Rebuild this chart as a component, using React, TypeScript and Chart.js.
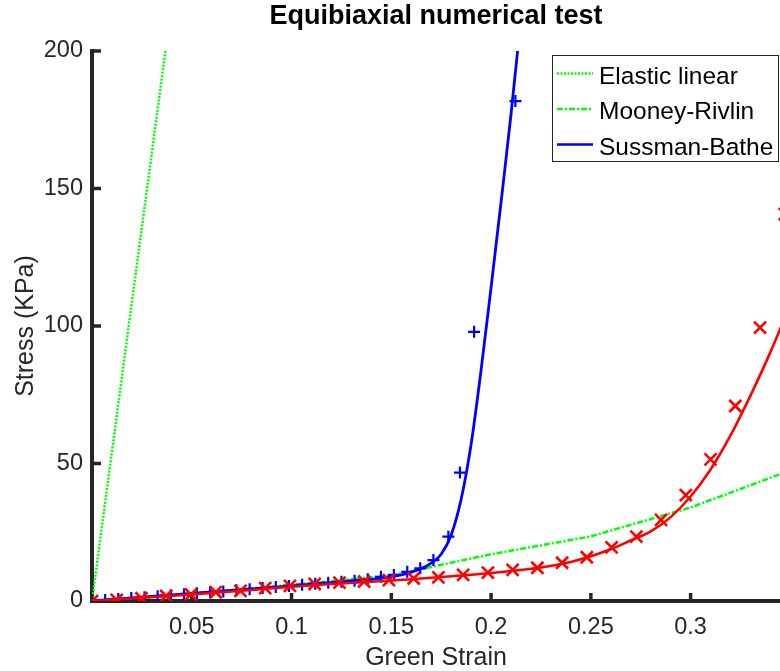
import React, { useEffect, useRef } from "react";
import { Chart, registerables } from "chart.js";

Chart.register(...registerables);

const FONT = "'Liberation Sans', Arial, Helvetica, sans-serif";
const AXIS_COLOR = "#262626";

// ---- data ----
const titleText = "Equibiaxial numerical test";
const xLabel = "Green Strain";
const yLabel = "Stress (KPa)";
const legendLabels = ["Elastic linear", "Mooney-Rivlin", "Sussman-Bathe"];

// Elastic linear (green dotted)
const elasticStrain = [0, 0.04];
const elasticStress = [0, 217.4];

// Mooney-Rivlin (green dash-dot)
const mrStrain = [0, 0.05, 0.1, 0.15, 0.2, 0.25, 0.3, 0.35];
const mrStress = [0, 2.8, 5.9, 9.3, 17, 23.5, 34, 47.5];

// Sussman-Bathe (blue solid)
const sbStrain = [0, 0.02, 0.04, 0.06, 0.08, 0.1, 0.12, 0.14, 0.15, 0.155, 0.16, 0.165, 0.17, 0.175, 0.18, 0.185, 0.19, 0.195, 0.2, 0.205, 0.21, 0.215];
const sbStress = [0, 1.1, 2.2, 3.3, 4.4, 5.5, 6.7, 7.9, 8.8, 9.5, 10.5, 11.8, 13.8, 17, 24, 37, 57, 84, 114, 145, 177, 212];

// Blue "+" markers
const blueMarkStrain = [0, 0.0066, 0.0132, 0.0197, 0.0263, 0.0329, 0.0395, 0.0461, 0.0526, 0.0592, 0.0658, 0.0724, 0.079, 0.0855, 0.0921, 0.0987, 0.1053, 0.1119, 0.1184, 0.125, 0.1316, 0.1382, 0.1448, 0.1513, 0.158, 0.1645, 0.1711, 0.1786, 0.1844, 0.1915, 0.2122];
const blueMarkStress = [0, 0.35, 0.7, 1.05, 1.4, 1.75, 2.1, 2.45, 2.8, 3.15, 3.5, 3.9, 4.3, 4.7, 5.1, 5.5, 5.9, 6.3, 6.6, 7.0, 7.4, 7.9, 8.8, 9.5, 10.6, 11.9, 14.9, 23.4, 46.7, 97.9, 181.8];

// Red solid curve
const redStrain = [0, 0.02, 0.04, 0.06, 0.08, 0.1, 0.12, 0.14, 0.16, 0.18, 0.2, 0.22, 0.24, 0.26, 0.27, 0.28, 0.29, 0.3, 0.31, 0.32, 0.33, 0.34, 0.35];
const redStress = [0, 0.9, 1.9, 2.9, 4.0, 5.2, 6.2, 7.0, 7.9, 9.0, 10.2, 11.7, 14.2, 18.8, 22.0, 25.3, 30.5, 38, 47.8, 60.2, 74.7, 90.5, 108];

// Red "x" markers
const redMarkStrain = [0, 0.0124, 0.0248, 0.0372, 0.0496, 0.062, 0.0744, 0.0868, 0.0992, 0.1116, 0.124, 0.1364, 0.1488, 0.1612, 0.1736, 0.186, 0.1984, 0.2108, 0.2232, 0.2356, 0.248, 0.2604, 0.2728, 0.2852, 0.2976, 0.31, 0.3224, 0.3348, 0.3472];
const redMarkStress = [0, 0.4, 1.0, 1.8, 2.4, 3.2, 3.7, 4.7, 5.5, 6.2, 6.7, 7.1, 7.6, 8.2, 8.6, 9.5, 10.3, 11.3, 12.1, 13.9, 15.9, 19.5, 23.4, 29.5, 38.5, 51.5, 70.9, 99.4, 140.7];

const xMin = 0;
const xMax = 0.3448;
const xStep = 0.05;
const yMin = 0;
const yMax = 200;
const yStep = 50;

const GREEN = "#00ff00";
const BLUE = "#0000ff";
const RED = "#ff0000";

const pts = (xs: number[], ys: number[]) => xs.map((x, i) => ({ x, y: ys[i] }));

const inwardTicks = {
  id: "inwardTicks",
  beforeDatasetsDraw(chart: any) {
    const { ctx, chartArea, scales } = chart;
    ctx.save();
    ctx.strokeStyle = AXIS_COLOR;
    ctx.lineWidth = 3.5;
    scales.x.ticks.forEach((t: any) => {
      if (t.value <= 0) return;
      const px = scales.x.getPixelForValue(t.value);
      ctx.beginPath();
      ctx.moveTo(px, chartArea.bottom);
      ctx.lineTo(px, chartArea.bottom - 8);
      ctx.stroke();
    });
    scales.y.ticks.forEach((t: any) => {
      if (t.value <= 0) return;
      const py = scales.y.getPixelForValue(t.value);
      ctx.beginPath();
      ctx.moveTo(chartArea.left, py);
      ctx.lineTo(chartArea.left + 9, py);
      ctx.stroke();
    });
    ctx.restore();
  },
};

const boxLegend = {
  id: "boxLegend",
  afterDraw(chart: any) {
    const { ctx } = chart;
    const ds = chart.data.datasets;
    ctx.save();
    const x0 = 552.5, y0 = 55.5, w = 226, h = 106;
    ctx.fillStyle = "#ffffff";
    ctx.fillRect(x0, y0, w, h);
    ctx.strokeStyle = AXIS_COLOR;
    ctx.lineWidth = 1;
    ctx.strokeRect(x0, y0, w, h);
    const rows = [73.5, 109, 144.5];
    legendLabels.forEach((label, i) => {
      const d = ds[i];
      const y = rows[i];
      ctx.save();
      ctx.strokeStyle = d.borderColor;
      ctx.lineWidth = 2.5;
      ctx.setLineDash(d.borderDash || []);
      ctx.beginPath();
      ctx.moveTo(557, y);
      ctx.lineTo(593, y);
      ctx.stroke();
      ctx.restore();
      ctx.fillStyle = "#000000";
      ctx.font = `24.5px ${FONT}`;
      ctx.textAlign = "left";
      ctx.textBaseline = "alphabetic";
      ctx.fillText(label, 599, y + 10);
    });
    ctx.restore();
  },
};

export default function App() {
  const canvasRef = useRef<HTMLCanvasElement | null>(null);

  useEffect(() => {
    if (!canvasRef.current) return;
    Chart.defaults.font.family = FONT;
    const chart = new Chart(canvasRef.current, {
      type: "scatter",
      data: {
        datasets: [
          {
            label: legendLabels[0],
            data: pts(elasticStrain, elasticStress),
            showLine: true,
            borderColor: GREEN,
            backgroundColor: GREEN,
            borderWidth: 2.5,
            borderDash: [2, 1.5],
            pointRadius: 0,
            order: 6,
          },
          {
            label: legendLabels[1],
            data: pts(mrStrain, mrStress),
            showLine: true,
            borderColor: GREEN,
            backgroundColor: GREEN,
            borderWidth: 2.5,
            borderDash: [6, 2, 2, 2],
            pointRadius: 0,
            order: 5,
          },
          {
            label: legendLabels[2],
            data: pts(sbStrain, sbStress),
            showLine: true,
            borderColor: BLUE,
            backgroundColor: BLUE,
            borderWidth: 2.8,
            cubicInterpolationMode: "monotone",
            pointRadius: 0,
            order: 4,
          },
          {
            label: "blue markers",
            data: pts(blueMarkStrain, blueMarkStress),
            showLine: false,
            borderColor: BLUE,
            backgroundColor: BLUE,
            pointStyle: "cross",
            pointRadius: 6,
            pointBorderWidth: 2.2,
            order: 3,
          },
          {
            label: "red curve",
            data: pts(redStrain, redStress),
            showLine: true,
            borderColor: RED,
            backgroundColor: RED,
            borderWidth: 2.6,
            cubicInterpolationMode: "monotone",
            pointRadius: 0,
            order: 2,
          },
          {
            label: "red markers",
            data: pts(redMarkStrain, redMarkStress),
            showLine: false,
            borderColor: RED,
            backgroundColor: RED,
            pointStyle: "crossRot",
            pointRadius: 8.5,
            pointBorderWidth: 2.6,
            order: 1,
          },
        ],
      },
      options: {
        animation: false,
        responsive: false,
        events: [],
        layout: { padding: 0, autoPadding: false },
        plugins: {
          legend: { display: false },
          tooltip: { enabled: false },
          title: {
            display: true,
            fullSize: false,
            text: titleText,
            color: "#000000",
            font: { family: FONT, size: 27, weight: "bold", lineHeight: 1.2 },
            padding: { top: 0, bottom: 18.6 },
          },
        },
        scales: {
          x: {
            type: "linear",
            min: xMin,
            max: xMax,
            grid: { display: false, drawTicks: false },
            border: { display: true, width: 4, color: AXIS_COLOR },
            ticks: {
              stepSize: xStep,
              includeBounds: false,
              autoSkip: false,
              maxRotation: 0,
              color: AXIS_COLOR,
              font: { family: FONT, size: 23.5 },
              padding: 12,
              callback: (v: any) => (Number(v) === 0 ? "" : String(Number(Number(v).toFixed(2)))),
            },
            title: {
              display: true,
              text: xLabel,
              color: AXIS_COLOR,
              font: { family: FONT, size: 25 },
              padding: { top: 0, bottom: -2 },
            },
            afterFit: (s: any) => {
              s.height = 70;
            },
          },
          y: {
            type: "linear",
            min: yMin,
            max: yMax,
            grid: { display: false, drawTicks: false },
            border: { display: true, width: 4, color: AXIS_COLOR },
            ticks: {
              stepSize: yStep,
              includeBounds: false,
              color: AXIS_COLOR,
              font: { family: FONT, size: 23.5 },
              padding: 9,
            },
            title: {
              display: true,
              text: yLabel,
              color: AXIS_COLOR,
              font: { family: FONT, size: 25 },
              padding: { top: 11, bottom: 0 },
            },
            afterFit: (s: any) => {
              s.width = 92;
            },
          },
        },
      } as any,
      plugins: [inwardTicks, boxLegend],
    });
    return () => chart.destroy();
  }, []);

  return (
    <div style={{ position: "absolute", left: 0, top: 0, width: 780, height: 671, background: "#ffffff" }}>
      <canvas ref={canvasRef} width={780} height={671} style={{ display: "block" }} />
    </div>
  );
}
